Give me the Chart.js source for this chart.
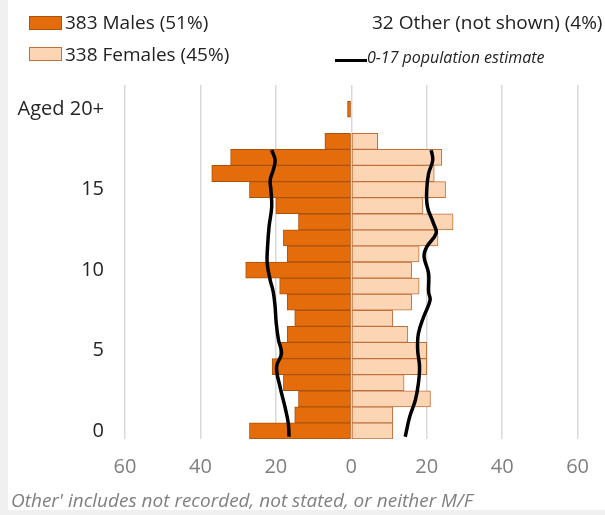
<!DOCTYPE html>
<html>
<head>
<meta charset="utf-8">
<script src="https://cdn.jsdelivr.net/npm/chart.js@4.4.0/dist/chart.umd.min.js"></script>
<style>
  html, body { margin: 0; padding: 0; background: #f0f0f0; }
  #panel { position: absolute; left: 8px; top: 0; width: 597px; height: 510px; background: #fff; }
  #chart-box { position: absolute; left: 0; top: 0; width: 605px; height: 515px; }
  .leg { position: absolute; font-family: 'Open Sans', sans-serif; font-size: 19px; color: #222;
         white-space: nowrap; line-height: 26px; }
  .box { position: absolute; width: 33px; height: 14px; box-sizing: border-box; }
  #note { position: absolute; left: 11px; top: 487px; font-family: 'Open Sans', sans-serif;
          font-style: italic; font-size: 19px; line-height: 26px; color: #808080; white-space: nowrap; }
</style>
</head>
<body>
<div id="panel"></div>
<div id="chart-box"><canvas id="chart" width="605" height="515"></canvas></div>

<div class="box" style="left:29px; top:16px; background:#e46c0a; border:1px solid #a9520c;"></div>
<div class="leg" id="leg-m" style="left:65px; top:9px;"></div>
<div class="box" style="left:29px; top:47px; background:#fcd5b5; border:1px solid #c0703a;"></div>
<div class="leg" id="leg-f" style="left:65px; top:41px;"></div>
<div class="leg" id="leg-o" style="left:372px; top:9px;"></div>
<div style="position:absolute; left:335px; top:59px; width:32px; height:3px; background:#000;"></div>
<div class="leg" style="left:367px; top:46px; font-style:italic; font-size:16px; line-height:22px;">0-17 population estimate</div>
<div id="note">Other' includes not recorded, not stated, or neither M/F</div>

<script>
// age rows (20 = "Aged 20+")
const ages = [0, 1, 2, 3, 4, 5, 6, 7, 8, 9, 10, 11, 12, 13, 14, 15, 16, 17, 18, 19, 20];
const males = [27, 15, 14, 18, 21, 19, 17, 15, 17, 19, 28, 17, 18, 14, 20, 27, 37, 32, 7, 0, 1];
const females = [11, 11, 21, 14, 20, 20, 15, 11, 16, 18, 16, 18, 23, 27, 19, 25, 22, 24, 7, 0, 0];
const otherCount = 32;

// population estimate curves
const malePopAge = [-0.36, 0.48, 1.51, 2.75, 3.99, 4.82, 5.65, 6.7, 7.72, 8.65, 9.38, 10.43, 11.44, 12.69, 13.93, 14.97, 15.59, 16.21, 16.83, 17.45];
const malePop = [16.5, 16.7, 17.6, 18.9, 19.8, 18.5, 19.3, 19.9, 20.2, 20.7, 21.5, 22.3, 22.2, 21.8, 21.1, 21.3, 21.5, 20.7, 20.2, 21.1];
const femalePopAge = [-0.36, 0.89, 1.92, 2.96, 4.0, 5.03, 6.06, 7.1, 8.13, 8.65, 9.79, 10.82, 11.44, 12.28, 12.9, 13.93, 14.97, 16.0, 16.83, 17.45];
const femalePop = [14.3, 15.5, 17.0, 17.8, 18.1, 17.6, 17.8, 19.2, 20.9, 20.5, 20.5, 19.3, 20.0, 22.5, 21.8, 20.2, 20.0, 20.5, 21.6, 21.2];

const xTicks = [-60, -40, -20, 0, 20, 40, 60];
const yTicks = [0, 5, 10, 15, 20];
const yTickLabels = ['0', '5', '10', '15', 'Aged 20+'];

const sum = (a) => a.reduce((s, v) => s + v, 0);
const totM = sum(males), totF = sum(females);
const total = totM + totF + otherCount;
const pct = (v) => Math.round((v / total) * 100) + '%';
document.getElementById('leg-m').textContent = `${totM} Males (${pct(totM)})`;
document.getElementById('leg-f').textContent = `${totF} Females (${pct(totF)})`;
document.getElementById('leg-o').textContent = `${otherCount} Other (not shown) (${pct(otherCount)})`;

const font = { family: "'Open Sans', sans-serif", size: 20 };

new Chart(document.getElementById('chart'), {
  data: {
    datasets: [
      {
        type: 'line',
        data: malePopAge.map((a, i) => ({ x: -malePop[i], y: a })),
        borderColor: '#000', borderWidth: 3.5, pointRadius: 0, tension: 0.4, order: 0,
      },
      {
        type: 'line',
        data: femalePopAge.map((a, i) => ({ x: femalePop[i], y: a })),
        borderColor: '#000', borderWidth: 3.5, pointRadius: 0, tension: 0.4, order: 0,
      },
      {
        type: 'bar',
        data: ages.map((a, i) => ({ x: -males[i], y: a })),
        backgroundColor: '#e46c0a', borderColor: '#a9520c', borderWidth: 1, borderSkipped: false,
        grouped: false, barPercentage: 1, categoryPercentage: 1, order: 1,
      },
      {
        type: 'bar',
        data: ages.map((a, i) => ({ x: females[i], y: a })),
        backgroundColor: '#fcd5b5', borderColor: '#c0703a', borderWidth: 1, borderSkipped: false,
        grouped: false, barPercentage: 1, categoryPercentage: 1, order: 1,
      },
    ],
  },
  options: {
    indexAxis: 'y',
    responsive: false,
    animation: false,
    layout: { padding: { top: 85, right: 23, left: 0, bottom: 0 } },
    plugins: { legend: { display: false }, tooltip: { enabled: false } },
    scales: {
      x: {
        type: 'linear', min: -60, max: 60,
        afterBuildTicks: (s) => { s.ticks = xTicks.map((v) => ({ value: v })); },
        afterFit: (s) => { s.height = 76; },
        grid: { color: '#d9d9d9', lineWidth: 1.5, drawTicks: false },
        border: { display: false },
        ticks: { color: '#7f7f7f', font, padding: 16, callback: (v) => Math.abs(v) },
      },
      y: {
        type: 'linear', min: -0.5, max: 21.5, offset: false,
        afterBuildTicks: (s) => { s.ticks = yTicks.map((v) => ({ value: v })); },
        afterFit: (s) => { s.width = 125; },
        grid: { display: false, drawTicks: false },
        border: { display: false },
        ticks: { color: '#262626', font, padding: 21, callback: (v) => yTickLabels[yTicks.indexOf(v)] },
      },
    },
  },
});
</script>
</body>
</html>
